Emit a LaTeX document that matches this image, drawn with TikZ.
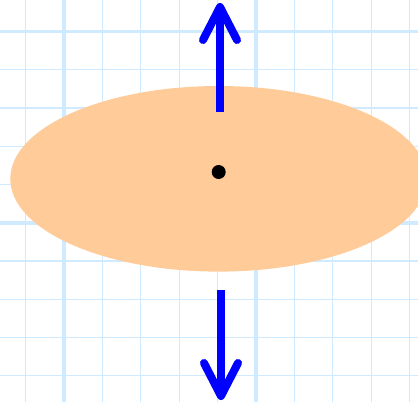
\documentclass[tikz,border=0pt]{standalone}
\usetikzlibrary{arrows.meta}
\usetikzlibrary{positioning}
\definecolor{gridblue}{RGB}{208,235,255}
\definecolor{peach}{RGB}{255,204,153}

\begin{document}
\begin{tikzpicture}[x=1pt,y=-1pt,
  minor line/.style={gridblue,line width=1.3pt},
  major line/.style={gridblue,line width=3.5pt},
  force/.style={blue,line width=8pt,-{Straight Barb[length=33pt,width=34pt,round]}},
  centre/.style={circle,fill=black,inner sep=0pt,minimum size=14pt}]
\useasboundingbox (0,0) rectangle (418,402);
\clip (0,0) rectangle (418,402);
\fill[white] (0,0) rectangle (418,402);
% grid paper
\foreach \k in {0,...,10}
  \draw[minor line] (25.6+38.4*\k,0) -- (25.6+38.4*\k,402);
\foreach \k in {0,...,9}
  \draw[minor line] (0,31.5+38.25*\k) -- (418,31.5+38.25*\k);
\foreach \k in {1,6}
  \draw[major line] (25.6+38.4*\k,0) -- (25.6+38.4*\k,402);
\foreach \k in {0,5}
  \draw[major line] (0,31.5+38.25*\k) -- (418,31.5+38.25*\k);
% body
\fill[peach] (218.7,178.8) ellipse [x radius=208.4,y radius=92.8];
\node[centre] (c) at (218.7,172) {};
% forces
\coordinate (upfoot) at (220,112);
\coordinate (uptip) at (220,3);
\coordinate (downfoot) at (221,290);
\coordinate (downtip) at (221,400);
\draw[force] (upfoot) -- (uptip);
\draw[force] (downfoot) -- (downtip);
\end{tikzpicture}
\end{document}
